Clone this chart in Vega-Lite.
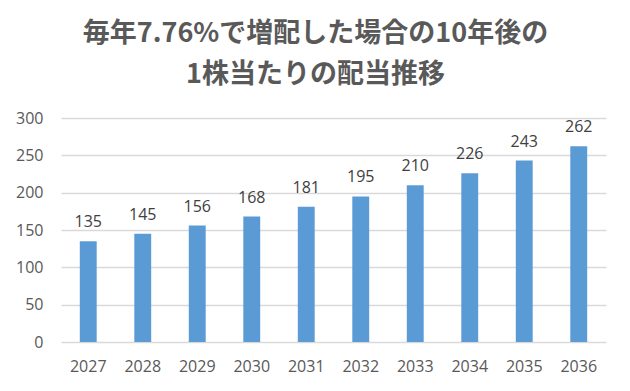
{
  "$schema": "https://vega.github.io/schema/vega-lite/v6.json",
  "width": 545,
  "height": 224,
  "autosize": {"type": "none"},
  "padding": {"left": 61, "top": 118, "right": 24, "bottom": 49},
  "background": "white",
  "title": {
    "text": ["毎年7.76%で増配した場合の10年後の", "1株当たりの配当推移"],
    "font": "Noto Sans CJK JP",
    "fontSize": 27,
    "fontWeight": "bold",
    "color": "#595959",
    "lineHeight": 41,
    "anchor": "middle",
    "frame": "group",
    "dx": -18,
    "offset": 21
  },
  "data": {
    "values": [
      {"year": "2027", "value": 135},
      {"year": "2028", "value": 145},
      {"year": "2029", "value": 156},
      {"year": "2030", "value": 168},
      {"year": "2031", "value": 181},
      {"year": "2032", "value": 195},
      {"year": "2033", "value": 210},
      {"year": "2034", "value": 226},
      {"year": "2035", "value": 243},
      {"year": "2036", "value": 262}
    ]
  },
  "encoding": {
    "x": {
      "field": "year",
      "type": "ordinal",
      "scale": {"paddingInner": 0.69, "paddingOuter": 0.345},
      "axis": {
        "title": null,
        "labelAngle": 0,
        "labelFont": "Open Sans",
        "labelFontSize": 16,
        "labelColor": "#595959",
        "labelPadding": 16,
        "ticks": false,
        "domain": false,
        "grid": false
      }
    },
    "y": {
      "field": "value",
      "type": "quantitative",
      "scale": {"domain": [0, 300], "nice": false},
      "axis": {
        "title": null,
        "values": [0, 50, 100, 150, 200, 250, 300],
        "labelFont": "Open Sans",
        "labelFontSize": 16,
        "labelColor": "#595959",
        "labelPadding": 18,
        "ticks": false,
        "domain": false,
        "grid": true,
        "gridColor": "#d9d9d9",
        "gridWidth": 1.5
      }
    }
  },
  "layer": [
    {"mark": {"type": "bar", "color": "#5B9BD5"}},
    {
      "mark": {
        "type": "text",
        "baseline": "alphabetic",
        "dy": -14,
        "font": "Open Sans",
        "fontSize": 16,
        "color": "#404040"
      },
      "encoding": {"text": {"field": "value", "type": "quantitative"}}
    }
  ],
  "config": {"view": {"stroke": null}}
}
